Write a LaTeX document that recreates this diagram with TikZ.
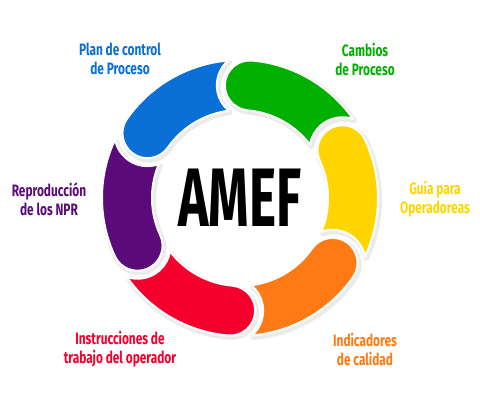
\documentclass[tikz,border=0pt]{standalone}
\usepackage{fontspec}
\usepackage{tikz}
\newfontfamily\labelfont{Fira Sans}[FakeStretch=0.72]
\newfontfamily\titlefont{Fira Sans}[FakeStretch=0.62]
\definecolor{amefBlue}{RGB}{10,111,214}
\definecolor{amefGreen}{RGB}{0,176,0}
\definecolor{amefYellow}{RGB}{255,213,0}
\definecolor{amefOrange}{RGB}{255,122,20}
\definecolor{amefRed}{RGB}{245,0,45}
\definecolor{amefPurple}{RGB}{91,10,122}
% one ring piece: round end at angle #1, hollow end fitting the next piece
\newcommand{\SegPath}[1]{(#1:138) arc[start angle=#1, end angle=#1-50.10, radius=138]
  arc[start angle=#1-14.03, end angle=#1+85.06, radius=33]
  arc[start angle=#1-47.60, end angle=#1, radius=88]
  arc[start angle=#1+180, end angle=#1, radius=25] -- cycle}

\begin{document}
\begin{tikzpicture}[x=1pt,y=1pt]
  \tikzset{SegmentStyle/.style = {
    draw          = white,
    line width    = 2pt,
    line join     = round
    }
  }
  \tikzset{ShadowStyle/.style = {
    fill          = black!16,
    draw          = black!8,
    line width    = 5pt,
    line join     = round,
    shift         = {(1.5,-2)}
    }
  }
  \tikzset{LabelStyle/.style = {
    font          = \labelfont\bfseries\fontsize{16.5}{19}\selectfont,
    align         = center,
    inner sep     = 0pt,
    text          = #1
    }
  }
  \useasboundingbox (0,0) rectangle (480,400);

  \begin{scope}[shift={(240,202)}]
	\fill[ShadowStyle] \SegPath{145};
	\fill[ShadowStyle] \SegPath{85};
	\fill[ShadowStyle] \SegPath{25};
	\fill[ShadowStyle] \SegPath{-35};
	\fill[ShadowStyle] \SegPath{-95};
	\fill[ShadowStyle] \SegPath{-155};
	\fill[SegmentStyle, fill=amefBlue] \SegPath{145};
	\fill[SegmentStyle, fill=amefGreen] \SegPath{85};
	\fill[SegmentStyle, fill=amefYellow] \SegPath{25};
	\fill[SegmentStyle, fill=amefOrange] \SegPath{-35};
	\fill[SegmentStyle, fill=amefRed] \SegPath{-95};
	\fill[SegmentStyle, fill=amefPurple] \SegPath{-155};
  \end{scope}

	\node[font=\titlefont\bfseries\fontsize{83}{83}\selectfont, inner sep=0pt](amef) at (240,202) {AMEF};

	\node[LabelStyle=amefBlue](plan) at (120,341) {Plan de control\\de Proceso};
	\node[LabelStyle=amefGreen](cambios) at (365,341) {Cambios\\de Proceso};
	\node[LabelStyle=amefYellow](guia) at (435,201) {Guía para\\Operadoreas};
	\node[LabelStyle=amefOrange](indic) at (365,51) {Indicadores\\de calidad};
	\node[LabelStyle=amefRed](instr) at (120,51) {Instrucciones de\\trabajo del operador};
	\node[LabelStyle=amefPurple](repro) at (49,201) {Reproducción\\de los NPR};

  \end{tikzpicture}
\end{document}
